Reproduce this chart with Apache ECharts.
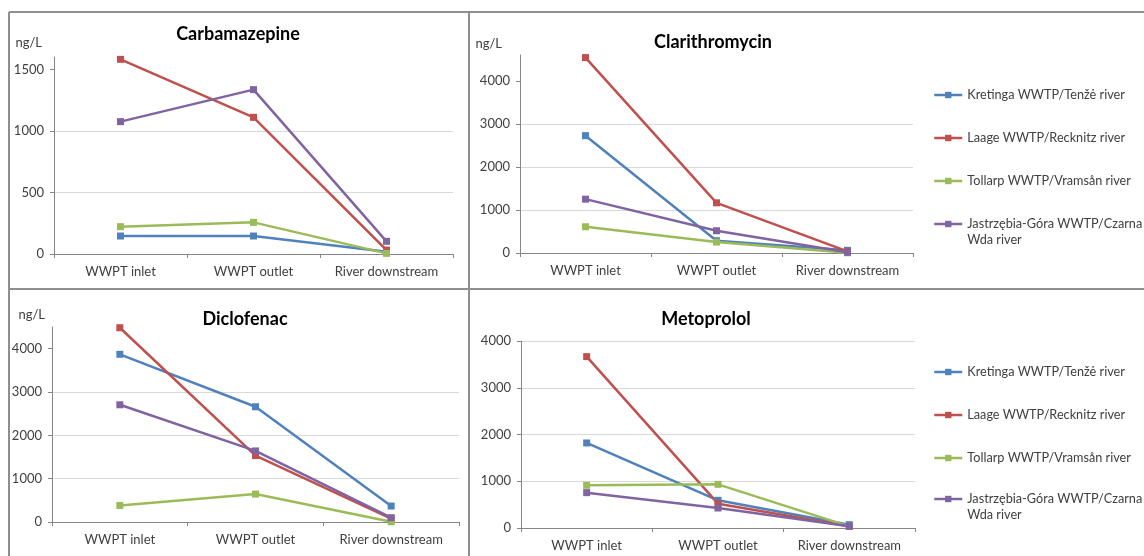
<!DOCTYPE html>
<html>
<head>
<meta charset="utf-8">
<script src="https://cdn.jsdelivr.net/npm/echarts@6/dist/echarts.min.js"></script>
<style>
html,body{margin:0;padding:0;background:#ffffff;}
#chart{width:1144px;height:556px;}
</style>
</head>
<body>
<div id="chart"></div>
<script>
// ---------- data ----------
const categories = ['WWPT inlet', 'WWPT outlet', 'River downstream'];
const siteNames = [
  'Kretinga WWTP/Tenžė river',
  'Laage WWTP/Recknitz river',
  'Tollarp WWTP/Vramsån river',
  'Jastrzębia-Góra WWTP/Czarna Wda river'
];
const panelTitles = ['Carbamazepine', 'Clarithromycin', 'Diclofenac', 'Metoprolol'];

const carbKretinga   = [146, 146, 18];
const carbLaage      = [1581, 1110, 32];
const carbTollarp    = [222, 257, 5];
const carbJastrzebia = [1075, 1335, 103];

const clarKretinga   = [2726, 286, 62];
const clarLaage      = [4540, 1166, 39];
const clarTollarp    = [610, 255, 5];
const clarJastrzebia = [1251, 517, 15];

const diclKretinga   = [3870, 2659, 368];
const diclLaage      = [4483, 1533, 77];
const diclTollarp    = [383, 644, 5];
const diclJastrzebia = [2705, 1640, 100];

const metoKretinga   = [1819, 592, 71];
const metoLaage      = [3666, 521, 36];
const metoTollarp    = [913, 934, 36];
const metoJastrzebia = [756, 428, 36];

const carbTicks = [0, 500, 1000, 1500];
const clarTicks = [0, 1000, 2000, 3000, 4000];
const diclTicks = [0, 1000, 2000, 3000, 4000];
const metoTicks = [0, 1000, 2000, 3000, 4000];
const axisMax = [1600, 4600, 4500, 4000];
const axisStep = [500, 1000, 1000, 1000];
const unitLabel = 'ng/L';

// ---------- layout / style ----------
const colors = ['#4F81BD', '#C0504D', '#9BBB59', '#8064A2'];
const FONT = 'Lato, "Open Sans", sans-serif';
const panelSeries = [
  [carbKretinga, carbLaage, carbTollarp, carbJastrzebia],
  [clarKretinga, clarLaage, clarTollarp, clarJastrzebia],
  [diclKretinga, diclLaage, diclTollarp, diclJastrzebia],
  [metoKretinga, metoLaage, metoTollarp, metoJastrzebia]
];
const panelTicks = [carbTicks, clarTicks, diclTicks, metoTicks];
const layout = [
  {grid: {left: 54, top: 57, width: 399, height: 197}, title: [238, 25], unit: true, unitPad: 12, unitGap: 8},
  {grid: {left: 520, top: 55, width: 393, height: 198}, title: [713, 33], unit: true, unitPad: 18, unitGap: 5},
  {grid: {left: 52, top: 327, width: 407, height: 195}, title: [245, 310], unit: true, unitPad: 7, unitGap: 6},
  {grid: {left: 521, top: 341, width: 394, height: 187}, title: [706, 310], unit: false}
];

const grids = [], xAxes = [], yAxes = [], series = [], titles = [];
layout.forEach((L, p) => {
  grids.push(Object.assign({containLabel: false}, L.grid));
  titles.push({
    text: panelTitles[p], left: L.title[0], top: L.title[1], textAlign: 'center', padding: 0,
    textStyle: {fontFamily: FONT, fontSize: 18, fontWeight: 'bold', color: '#000000'}
  });
  xAxes.push({
    type: 'category', gridIndex: p, data: categories, boundaryGap: true,
    axisLine: {show: true, lineStyle: {color: '#868686', width: 1}},
    axisTick: {show: true, length: 4, inside: false, lineStyle: {color: '#868686'}},
    axisLabel: {fontFamily: FONT, fontSize: 13, color: '#404040', margin: 11, interval: 0},
    splitLine: {show: false}
  });
  const isTopGrid = panelTicks[p][panelTicks[p].length - 1] === axisMax[p];
  yAxes.push({
    type: 'value', gridIndex: p, min: 0, max: axisMax[p], interval: axisStep[p],
    name: L.unit ? unitLabel : '',
    nameLocation: 'end', nameGap: L.unitGap || 0,
    nameTextStyle: {fontFamily: FONT, fontSize: 13, color: '#404040', align: 'right', padding: [0, L.unitPad || 0, 0, 0]},
    axisLine: {show: true, lineStyle: {color: '#868686', width: 1}},
    axisTick: {show: true, length: 4, customValues: panelTicks[p], lineStyle: {color: '#868686'}},
    axisLabel: {fontFamily: FONT, fontSize: 13, color: '#404040', margin: 10,
      customValues: panelTicks[p], formatter: (v) => String(v)},
    splitLine: {show: true, showMaxLine: isTopGrid, lineStyle: {color: '#D9D9D9', width: 1}}
  });
  panelSeries[p].forEach((vals, s) => {
    series.push({
      type: 'line', name: siteNames[s], xAxisIndex: p, yAxisIndex: p, data: vals,
      symbol: 'rect', symbolSize: 7, showAllSymbol: true,
      lineStyle: {color: colors[s], width: 2.5},
      itemStyle: {color: colors[s]},
      emphasis: {disabled: true}, animation: false
    });
  });
});

const legendText = {fontFamily: FONT, fontSize: 12.7, color: '#404040', lineHeight: 16};
function makeLegend(top, names) {
  return {
    orient: 'vertical', left: 933, top: top, padding: 0,
    itemWidth: 28, itemHeight: 8, itemGap: 27,
    lineStyle: {width: 2.5},
    textStyle: legendText,
    // two-line name: a leading empty line keeps the icon level with the first text line
    formatter: (name) => name.indexOf('Czarna ') >= 0 ? '\n' + name.replace('Czarna ', 'Czarna\n') : name,
    data: names,
    selectedMode: false
  };
}

const borderStyle = {stroke: '#8E8E8E', lineWidth: 2};
const option = {
  backgroundColor: '#ffffff',
  animation: false,
  color: colors,
  title: titles,
  grid: grids,
  xAxis: xAxes,
  yAxis: yAxes,
  legend: [
    makeLegend(87, siteNames.slice(0, 3)),
    makeLegend(200, siteNames.slice(3)),
    makeLegend(364, siteNames.slice(0, 3)),
    makeLegend(475, siteNames.slice(3))
  ],
  series: series,
  graphic: [
    {type: 'line', shape: {x1: 9, y1: 12, x2: 1144, y2: 12}, style: borderStyle, silent: true},
    {type: 'line', shape: {x1: 9, y1: 12, x2: 9, y2: 556}, style: borderStyle, silent: true},
    {type: 'line', shape: {x1: 469, y1: 12, x2: 469, y2: 556}, style: borderStyle, silent: true},
    {type: 'line', shape: {x1: 9, y1: 289, x2: 1144, y2: 289}, style: borderStyle, silent: true}
  ]
};

const chart = echarts.init(document.getElementById('chart'), null, {renderer: 'canvas'});
chart.setOption(option);
</script>
</body>
</html>
